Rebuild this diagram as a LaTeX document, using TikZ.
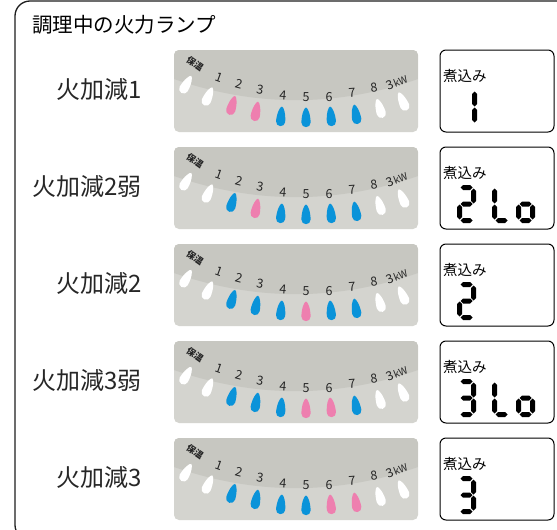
\documentclass[tikz,border=0pt]{standalone}
\usepackage{fontspec}
\setmainfont{Noto Sans CJK JP}
\definecolor{pinkl}{HTML}{EE7FAF}
\definecolor{bluel}{HTML}{0A93D9}
\definecolor{panelc}{HTML}{D4D4CF}
\definecolor{bandc}{HTML}{C7C7C1}
\definecolor{numc}{HTML}{262626}
\definecolor{framec}{HTML}{1E1E1E}

\newcommand\lampdrop[4]{%
 \begin{scope}[shift={(#1,-#2)},rotate=#3]
  \fill[#4] (0,10.5) .. controls (1.9,10.5) and (4.6,3) .. (4.6,-4.6)
    arc[start angle=0,end angle=-180,radius=4.6]
    .. controls (-4.6,3) and (-1.9,10.5) .. cycle;
 \end{scope}}

\newcommand\segA{\fill (3.5,-2.5) -- (6,0) -- (13,0) -- (15.5,-2.5) -- (13,-5) -- (6,-5) -- cycle;}
\newcommand\segB{\fill (16.5,-3.5) -- (19,-6) -- (19,-16) -- (16.5,-18.5) -- (14,-16) -- (14,-6) -- cycle;}
\newcommand\segC{\fill (16.5,-19.5) -- (19,-22) -- (19,-32) -- (16.5,-34.5) -- (14,-32) -- (14,-22) -- cycle;}
\newcommand\segD{\fill (3.5,-35.5) -- (6,-33) -- (13,-33) -- (15.5,-35.5) -- (13,-38) -- (6,-38) -- cycle;}
\newcommand\segE{\fill (2.5,-19.5) -- (5,-22) -- (5,-32) -- (2.5,-34.5) -- (0,-32) -- (0,-22) -- cycle;}
\newcommand\segF{\fill (2.5,-3.5) -- (5,-6) -- (5,-16) -- (2.5,-18.5) -- (0,-16) -- (0,-6) -- cycle;}
\newcommand\segG{\fill (3.5,-19) -- (6,-16.5) -- (13,-16.5) -- (15.5,-19) -- (13,-21.5) -- (6,-21.5) -- cycle;}
\newcommand\segdigit[3]{\begin{scope}[shift={(#1,-#2)}] #3 \end{scope}}
\newcommand\dOne[2]{\segdigit{#1}{#2}{\segB\segC}}
\newcommand\dTwo[2]{\segdigit{#1}{#2}{\segA\segB\segG\segE\segD}}
\newcommand\dThree[2]{\segdigit{#1}{#2}{\segA\segB\segG\segC\segD}}
\newcommand\dL[2]{\segdigit{#1}{#2}{\segF\segE\segD}}
\newcommand\dO[2]{\segdigit{#1}{#2}{\segG\segC\segD\segE}}

% #1 row id, #2 y offset, #3 label, #4 colour list
\newcommand\lamprow[4]{%
 \begin{scope}[shift={(0,-#2)}]
  \node[rowlabel] (lab#1) at (142,-89) {#3};
  \fill[panelc, rounded corners=5] (174,-50) rectangle (418,-132);
  \begin{scope}
   \clip[rounded corners=5] (174,-50) rectangle (418,-132);
   \fill[bandc] (174,-50) -- (174,-79) .. controls (255.3,-107.2) and (336.7,-107.2) .. (418,-79) -- (418,-50) -- cycle;
  \end{scope}
  \foreach \c [count=\i from 0] in {#4}{
    \pgfmathsetmacro\dx{{186,208,232,256,281,306,331,356,380,403}[\i]}
    \pgfmathsetmacro\dy{{85,97,106,112,117,118,117,115,109,102}[\i]}
    \pgfmathsetmacro\da{{-30,-24,-17,-11,-5,0,5,10,17,24}[\i]}
    \lampdrop{\dx}{\dy}{\da}{\c}
  }
  \node[numlab, font=\fontsize{9}{9}\selectfont\bfseries, rotate=-35] (hw#1) at (195,-64) {保温};
  \foreach \t/\x/\y/\a [count=\j] in {1/219/77/-20, 2/239/84/-15, 3/260/90/-10, 4/283/95/-5, 5/306/97/0, 6/329/97/0, 7/352/93/4, 8/374/88/8}{
    \node[numlab, rotate=\a] (num#1-\j) at (\x,-\y) {\t};
  }
  \node[numlab, rotate=22] (kw#1) at (397,-82) {3{\fontsize{10}{10}\selectfont kW}};
  \draw[line width=1pt, rounded corners=6, fill=white] (440,-50) rectangle (554,-132);
  \node[disptext] (ni#1) at (443,-76) {煮込み};
 \end{scope}}

\tikzset{
  rowlabel/.style={anchor=east, inner sep=0pt, font=\fontsize{24}{24}\selectfont, text=black!85},
  numlab/.style={inner sep=0pt, text=numc, font=\fontsize{12.5}{12.5}\selectfont},
  disptext/.style={anchor=west, inner sep=0pt, font=\fontsize{14.5}{15}\selectfont}
}

\begin{document}
\begin{tikzpicture}[x=1pt,y=1pt]
\useasboundingbox (0,0) rectangle (557,-530);
\fill[white] (0,0) rectangle (557,-530);
\begin{scope}
 \clip (0,0) rectangle (557,-530);
 \draw[framec, line width=1.3pt, rounded corners=15] (15,-1) rectangle (620,-540);
\end{scope}
\node[anchor=west, inner sep=0pt, font=\fontsize{20.5}{21}\selectfont] (title) at (32,-25) {調理中の火力ランプ};

\lamprow{1}{0}{火加減1}{white,white,pinkl,pinkl,bluel,bluel,bluel,bluel,white,white}
\lamprow{2}{97}{火加減2弱}{white,white,bluel,pinkl,bluel,bluel,bluel,bluel,white,white}
\lamprow{3}{194}{火加減2}{white,white,bluel,bluel,bluel,pinkl,bluel,bluel,white,white}
\lamprow{4}{291}{火加減3弱}{white,white,bluel,bluel,bluel,pinkl,pinkl,bluel,white,white}
\lamprow{5}{388}{火加減3}{white,white,bluel,bluel,bluel,bluel,pinkl,pinkl,white,white}

\dOne{458}{88}
\dTwo{457}{185}\dL{492}{185}\dO{516}{185}
\dTwo{457}{282}
\dThree{457}{379}\dL{492}{379}\dO{516}{379}
\dThree{457}{476}
\end{tikzpicture}
\end{document}
